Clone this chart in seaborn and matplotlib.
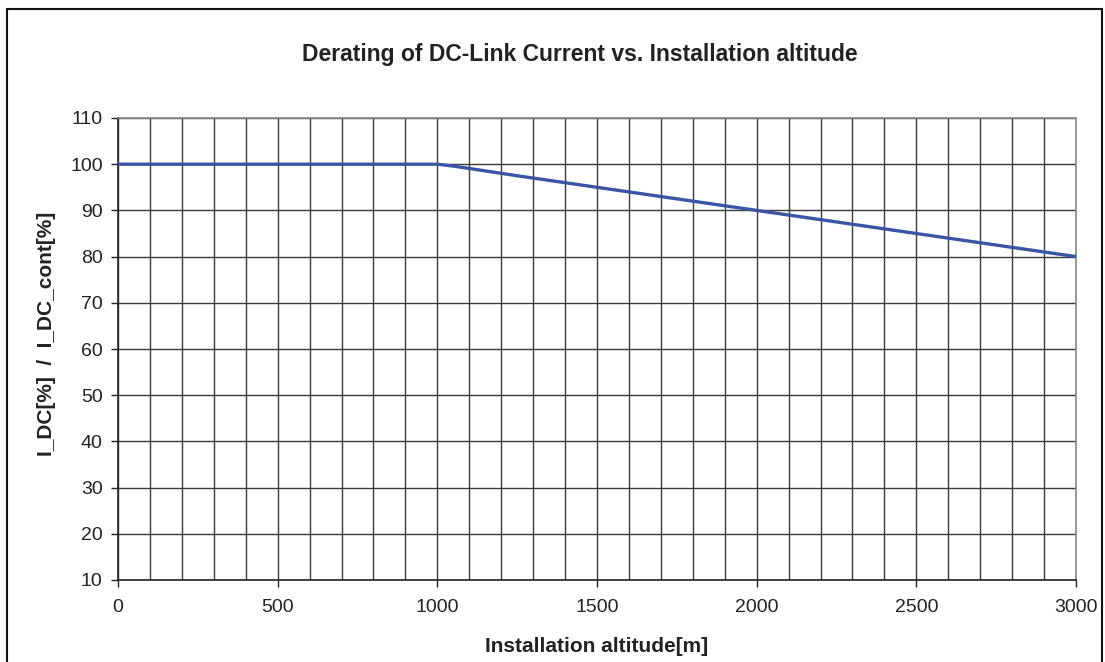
import matplotlib
matplotlib.use("Agg")
import matplotlib.pyplot as plt
import matplotlib.patches as mpatches
import seaborn as sns
import pandas as pd
import numpy as np

altitude = [0, 250, 500, 750, 1000, 1050, 1250, 1500, 1750, 2000, 2250, 2500, 2750, 3000]
current_pct = [100, 100, 100, 100, 100, 99.6, 97.5, 95, 92.5, 90, 87.5, 85, 82.5, 80]
x_ticks = [0, 500, 1000, 1500, 2000, 2500, 3000]
y_ticks = [10, 20, 30, 40, 50, 60, 70, 80, 90, 100, 110]

title = "Derating of DC-Link Current vs. Installation altitude"
xlabel = "Installation altitude[m]"
ylabel = "I_DC[%]  /  I_DC_cont[%]"

sns.set_style("white")
plt.rcParams['font.family'] = ['Liberation Sans', 'DejaVu Sans']

df = pd.DataFrame({"alt": altitude, "cur": current_pct})

fig = plt.figure(figsize=(11.05, 6.62), dpi=100)
ax = fig.add_axes([118/1105, 1-580/662, (1076-118)/1105, (580-118)/662])

ax.set_xlim(0, 3000)
ax.set_ylim(10, 110)
ax.set_xticks(x_ticks)
ax.set_xticks(np.arange(0, 3001, 100), minor=True)
ax.set_yticks(y_ticks)

ax.grid(True, which='both', axis='x', color='#3a3a3a', linewidth=1.0)
ax.grid(True, which='major', axis='y', color='#3a3a3a', linewidth=1.0)
ax.set_axisbelow(True)

sns.lineplot(data=df, x="alt", y="cur", ax=ax, color='#3A55A4', linewidth=2.4, zorder=3)

for side in ['top', 'right']:
    ax.spines[side].set_color('#8a8a8a')
    ax.spines[side].set_linewidth(1.2)
for side in ['left', 'bottom']:
    ax.spines[side].set_color('#222222')
    ax.spines[side].set_linewidth(1.2)

ax.tick_params(axis='both', which='major', direction='out', length=5, width=1.0,
               color='#222222', labelsize=14, labelcolor='#222222', pad=6)
ax.tick_params(axis='x', which='major', pad=9)
ax.tick_params(axis='x', which='minor', length=0)
ax.tick_params(left=True, bottom=True)

ax.set_xlabel("")
ax.set_ylabel("")
fig.text(597/1105, 1-647/662, xlabel, ha='center', va='center', fontsize=15,
         fontweight='bold', color='#222222')
fig.text(47/1105, 1-334/662, ylabel, ha='center', va='center', rotation=90,
         fontsize=15, fontweight='bold', color='#222222')
fig.text(580/1105, 1-55/662, title, ha='center', va='center', fontsize=16.5,
         fontweight='bold', color='#222222')

border = mpatches.Rectangle((7/1105, -0.02), (1102-7)/1105, 1-9/662+0.02,
                            transform=fig.transFigure, fill=False,
                            edgecolor='#111111', linewidth=1.5, clip_on=False)
fig.patches.append(border)

fig.savefig("out.png", dpi=100, facecolor='white')
